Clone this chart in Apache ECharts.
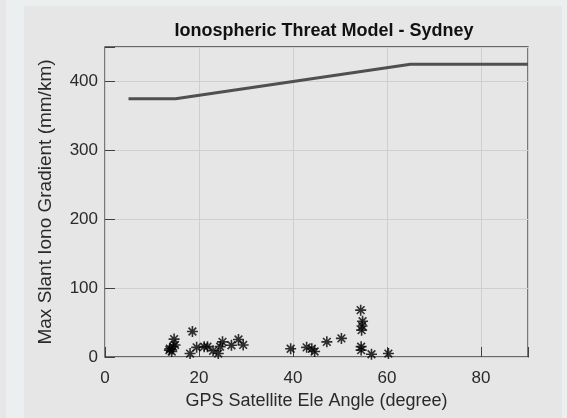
<!DOCTYPE html>
<html>
<head>
<meta charset="utf-8">
<script src="https://cdn.jsdelivr.net/npm/echarts@6/dist/echarts.min.js"></script>
<style>
html,body{margin:0;padding:0;width:567px;height:418px;overflow:hidden;background:#ebeff0;}
#strip{position:absolute;left:0;top:0;width:6px;height:418px;background:#e6e6e6;}
#fig{position:absolute;left:24px;top:6px;width:538px;height:412px;background:#e6e6e6;}
#chart{position:absolute;left:0;top:0;width:567px;height:418px;}
</style>
</head>
<body>
<div id="strip"></div>
<div id="fig"></div>
<div id="chart"></div>
<script>
// Threat model bound (elevation deg, gradient mm/km)
const modelElev = [5, 15, 65, 90];
const modelGrad = [375, 375, 425, 425];

// Observed gradients
const obsElev = [13.7, 14.2, 13.8, 14.5, 14.9, 14.7, 18.6, 18.1, 19.5, 21.1, 21.8, 23.0, 24.1, 24.5, 25.0, 26.9, 28.4, 29.4,
                 39.5, 42.9, 44.0, 44.6, 47.2, 50.3, 54.4, 54.8, 54.7, 54.6, 54.5, 54.5, 56.7, 60.3];
const obsGrad = [10, 8, 12, 15, 17.5, 26, 37, 5, 14, 15, 15, 9, 5, 15, 22, 17, 25.5, 17.5,
                 12, 14, 12, 8, 22, 27, 68, 52, 45, 39, 15, 10, 4, 5];

const xTicks = [0, 20, 40, 60, 80];
const yTicks = [0, 100, 200, 300, 400];

const chart = echarts.init(document.getElementById('chart'));
const font = '"Liberation Sans", Arial, Helvetica, sans-serif';
const axisCol = '#404040';
const star = 'path://M0 5 L10 5 M5 0 L5 10 M1.5 1.5 L8.5 8.5 M8.5 1.5 L1.5 8.5';

function mkAxis(min, max, interval, extra) {
  return Object.assign({
    type: 'value', min: min, max: max, interval: interval,
    axisLine: {show: false},
    axisTick: {show: false},
    axisLabel: {show: false},
    splitLine: {show: false}
  }, extra);
}
// tick-only axes pulled inside the box so their outward ticks point inward
const tickStyle = {show: true, length: 5, lineStyle: {color: axisCol, width: 1}};
function tickAxis(min, max, interval, pos) {
  return mkAxis(min, max, interval, {position: pos, offset: -5, axisTick: tickStyle,
    axisLabel: {show: true, formatter: () => ''}});
}

chart.setOption({
  animation: false,
  backgroundColor: 'transparent',
  title: {
    text: 'Ionospheric Threat Model - Sydney',
    left: 319, top: 17, textAlign: 'center',
    textStyle: {fontFamily: font, fontSize: 18, fontWeight: 'bold', color: '#111'}
  },
  grid: {left: 105, right: 39, top: 47, bottom: 61, containLabel: false,
         show: true, borderColor: axisCol, borderWidth: 1.3, backgroundColor: 'transparent'},
  xAxis: [
    mkAxis(0, 90, 20, {
      position: 'bottom',
      name: 'GPS Satellite Ele Angle (degree)', nameLocation: 'middle', nameGap: 35,
      nameTextStyle: {fontFamily: font, fontSize: 18, color: '#2a2a2a'},
      axisLabel: {show: true, margin: 13, fontFamily: font, fontSize: 17, color: '#2a2a2a', showMaxLabel: false,
        formatter: v => xTicks.includes(v) ? String(v) : ''},
      splitLine: {show: true, lineStyle: {color: '#cfcfcf', width: 1}}
    }),
    tickAxis(0, 90, 20, 'bottom'),
    tickAxis(0, 90, 20, 'top')
  ],
  yAxis: [
    mkAxis(0, 450, 100, {
      position: 'left',
      name: 'Max Slant Iono Gradient (mm/km)', nameLocation: 'middle', nameGap: 50,
      nameTextStyle: {fontFamily: font, fontSize: 19, color: '#2a2a2a'},
      axisLabel: {show: true, margin: 7, fontFamily: font, fontSize: 17, color: '#2a2a2a', showMaxLabel: false,
        formatter: v => yTicks.includes(v) ? String(v) : ''},
      splitLine: {show: true, lineStyle: {color: '#cfcfcf', width: 1}}
    }),
    tickAxis(0, 450, 100, 'left'),
    tickAxis(0, 450, 100, 'right')
  ],
  series: [
    {
      type: 'line', xAxisIndex: 0, yAxisIndex: 0,
      data: modelElev.map((x, i) => [x, modelGrad[i]]),
      showSymbol: false, symbol: 'none',
      lineStyle: {color: '#505050', width: 3}
    },
    {
      type: 'scatter', xAxisIndex: 0, yAxisIndex: 0,
      data: obsElev.map((x, i) => [x, obsGrad[i]]),
      symbol: star, symbolSize: 11,
      itemStyle: {color: 'none', borderColor: '#000', borderWidth: 1.6}
    }
  ]
});
</script>
</body>
</html>
